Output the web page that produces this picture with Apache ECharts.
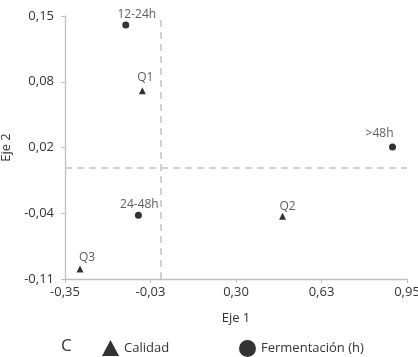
<!DOCTYPE html>
<html>
<head>
<meta charset="utf-8">
<script src="https://cdn.jsdelivr.net/npm/echarts@6/dist/echarts.min.js"></script>
<style>
  html, body { margin: 0; padding: 0; background: #fff; }
  #chart { width: 418px; height: 357px; }
</style>
</head>
<body>
<div id="chart"></div>
<script>
const xTicks = [-0.35, -0.025, 0.3, 0.625, 0.95];
const xTickLabels = ["-0,35", "-0,03", "0,30", "0,63", "0,95"];
const yTicks = [-0.11, -0.045, 0.02, 0.085, 0.15];
const yTickLabels = ["-0,11", "-0,04", "0,02", "0,08", "0,15"];

const calidadNames = ["Q1", "Q2", "Q3"];
const calidadX = [-0.056, 0.477, -0.293];
const calidadY = [0.076, -0.048, -0.1];

const fermentNames = ["12-24h", "24-48h", ">48h"];
const fermentX = [-0.119, -0.071, 0.895];
const fermentY = [0.141, -0.047, 0.0205];

const crossX = 0.015;
const crossY = 0;

const textColor = "#333333";
const fontFamily = "Open Sans";

// nudges for the point labels, as placed in the original
const labelNudge = {
  "Q1": [3, 0],
  "Q2": [5, 4],
  "Q3": [7, 2],
  "12-24h": [11, 3],
  "24-48h": [1, 3],
  ">48h": [-13, 0],
};

function points(names, xs, ys) {
  return names.map((name, i) => {
    return {
      name,
      value: [xs[i], ys[i]],
      label: {
        offset: labelNudge[name] || [0, 0],
      },
    };
  });
}

function tickLabel(ticks, labels) {
  return (value) => {
    const index = ticks.findIndex(
      (tick) => Math.abs(tick - value) < 1e-9,
    );
    return index >= 0 ? labels[index] : "";
  };
}

const chart = echarts.init(document.getElementById("chart"));

const pointLabel = {
  show: true,
  position: "top",
  distance: 4,
  formatter: "{b}",
  color: textColor,
  fontSize: 12,
  fontFamily,
};

const crossLine = {
  color: "#d0d0d0",
  type: [7, 5],
  width: 2,
};

chart.setOption({
  animation: false,
  textStyle: {
    fontFamily,
  },
  title: {
    text: "C",
    left: 56,
    top: 333,
    textStyle: {
      fontSize: 17,
      fontWeight: "normal",
      color: textColor,
      fontFamily,
    },
  },
  legend: [
    {
      data: [{ name: "Calidad", icon: "triangle" }],
      left: 97,
      top: 335,
      itemWidth: 17,
      itemHeight: 16,
      textStyle: { color: textColor, fontSize: 13, fontFamily },
    },
    {
      data: [{ name: "Fermentación (h)", icon: "circle" }],
      left: 234,
      top: 335,
      itemWidth: 17,
      itemHeight: 17,
      textStyle: { color: textColor, fontSize: 13, fontFamily },
    },
  ],
  grid: {
    left: 65,
    right: 11,
    top: 16,
    bottom: 78,
    containLabel: false,
    outerBoundsMode: "none",
  },
  xAxis: {
    type: "value",
    min: -0.35,
    max: 0.95,
    name: "Eje 1",
    nameLocation: "middle",
    nameGap: 33,
    nameTextStyle: { color: textColor, fontSize: 13, fontFamily },
    splitLine: { show: false },
    axisLine: {
      onZero: false,
      lineStyle: { color: "#bfbfbf", width: 1.3 },
    },
    axisTick: {
      show: true,
      length: 4,
      customValues: xTicks,
      lineStyle: { color: "#bfbfbf" },
    },
    axisLabel: {
      customValues: xTicks,
      formatter: tickLabel(xTicks, xTickLabels),
      color: textColor,
      fontSize: 13,
      margin: 7,
      fontFamily,
    },
  },
  yAxis: {
    type: "value",
    min: -0.11,
    max: 0.15,
    name: "Eje 2",
    nameLocation: "middle",
    nameGap: 40,
    nameTextStyle: { color: textColor, fontSize: 13, fontFamily },
    splitLine: { show: false },
    axisLine: {
      show: true,
      onZero: false,
      lineStyle: { color: "#bfbfbf", width: 1.3 },
    },
    axisTick: {
      show: true,
      length: 4,
      customValues: yTicks,
      lineStyle: { color: "#bfbfbf" },
    },
    axisLabel: {
      customValues: yTicks,
      formatter: tickLabel(yTicks, yTickLabels),
      color: textColor,
      fontSize: 13,
      margin: 11,
      fontFamily,
    },
  },
  series: [
    {
      name: "Calidad",
      type: "scatter",
      symbol: "triangle",
      symbolSize: 7,
      itemStyle: { color: "#000" },
      label: pointLabel,
      data: points(calidadNames, calidadX, calidadY),
      markLine: {
        silent: true,
        symbol: "none",
        label: { show: false },
        emphasis: { disabled: true },
        lineStyle: crossLine,
        data: [
          [
            { coord: [crossX, -0.11] },
            { coord: [crossX, 0.15] },
          ],
          [
            { coord: [-0.35, crossY] },
            { coord: [0.95, crossY] },
          ],
        ],
      },
    },
    {
      name: "Fermentación (h)",
      type: "scatter",
      symbol: "circle",
      symbolSize: 7,
      itemStyle: { color: "#000" },
      label: pointLabel,
      data: points(fermentNames, fermentX, fermentY),
    },
  ],
});
</script>
</body>
</html>
